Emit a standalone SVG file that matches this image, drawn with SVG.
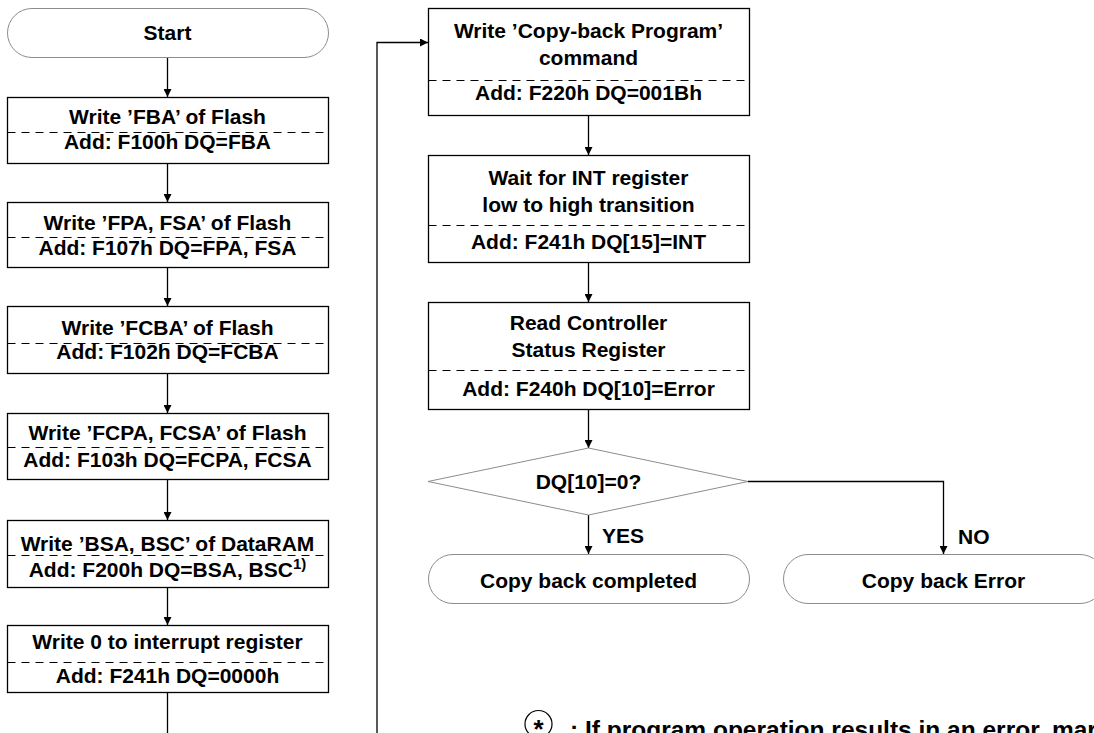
<svg xmlns="http://www.w3.org/2000/svg" width="1094" height="733" viewBox="0 0 1094 733">
<style>
.t{font-family:"Liberation Sans",Arial,sans-serif;font-weight:bold;font-size:21px;fill:#000;text-anchor:middle}
.box{fill:#fff;stroke:#000;stroke-width:1.3}
.term{fill:#fff;stroke:#8c8c8c;stroke-width:1}
.dash{stroke:#000;stroke-width:1;stroke-dasharray:8,6;fill:none}
.c{stroke:#000;stroke-width:1.3;fill:none}
</style>
<defs>
<marker id="ah" viewBox="0 0 10 10" refX="10" refY="5" markerWidth="8" markerHeight="8" markerUnits="userSpaceOnUse" orient="auto">
<path d="M0,0 L10,5 L0,10 z" fill="#000"/>
</marker>
</defs>
<rect width="1094" height="733" fill="#fff"/>
<g id="connectors">
<path class="c" d="M167.5,57 V97" marker-end="url(#ah)"/>
<path class="c" d="M167.5,163 V202" marker-end="url(#ah)"/>
<path class="c" d="M167.5,267 V306" marker-end="url(#ah)"/>
<path class="c" d="M167.5,373 V413" marker-end="url(#ah)"/>
<path class="c" d="M167.5,479 V520" marker-end="url(#ah)"/>
<path class="c" d="M167.5,587 V625" marker-end="url(#ah)"/>
<path class="c" d="M167.5,692 V740"/>
<path class="c" d="M377,740 V42.5 H428" marker-end="url(#ah)"/>
<path class="c" d="M588.5,115 V155" marker-end="url(#ah)"/>
<path class="c" d="M588.5,262 V302" marker-end="url(#ah)"/>
<path class="c" d="M588.5,409 V448" marker-end="url(#ah)"/>
<path class="c" d="M588.5,515 V554" marker-end="url(#ah)"/>
<path class="c" d="M748,481.5 H943.5 V554" marker-end="url(#ah)"/>
</g>
<g id="start">
<rect class="term" x="7.5" y="8.5" width="321" height="49" rx="24.5"/>
<text class="t" x="167.5" y="40">Start</text>
</g>
<g id="n1">
<rect class="box" x="7.5" y="97.5" width="321" height="66"/>
<line class="dash" x1="7.5" y1="132.5" x2="328.5" y2="132.5"/>
<text class="t" x="167.5" y="124">Write ’FBA’ of Flash</text>
<text class="t" x="167.5" y="149">Add: F100h DQ=FBA</text>
</g>
<g id="n2">
<rect class="box" x="7.5" y="202.5" width="321" height="65"/>
<line class="dash" x1="7.5" y1="237.5" x2="328.5" y2="237.5"/>
<text class="t" x="167.5" y="230">Write ’FPA, FSA’ of Flash</text>
<text class="t" x="167.5" y="255">Add: F107h DQ=FPA, FSA</text>
</g>
<g id="n3">
<rect class="box" x="7.5" y="306.5" width="321" height="67"/>
<line class="dash" x1="7.5" y1="343.5" x2="328.5" y2="343.5"/>
<text class="t" x="167.5" y="335">Write ’FCBA’ of Flash</text>
<text class="t" x="167.5" y="359">Add: F102h DQ=FCBA</text>
</g>
<g id="n4">
<rect class="box" x="7.5" y="413.5" width="321" height="66"/>
<line class="dash" x1="7.5" y1="447.5" x2="328.5" y2="447.5"/>
<text class="t" x="167.5" y="440">Write ’FCPA, FCSA’ of Flash</text>
<text class="t" x="167.5" y="467">Add: F103h DQ=FCPA, FCSA</text>
</g>
<g id="n5">
<rect class="box" x="7.5" y="520.5" width="321" height="67"/>
<line class="dash" x1="7.5" y1="555.5" x2="328.5" y2="555.5"/>
<text class="t" x="167.5" y="551">Write ’BSA, BSC’ of DataRAM</text>
<text class="t" x="167.5" y="577">Add: F200h DQ=BSA, BSC<tspan dy="-8" font-size="15">1)</tspan></text>
</g>
<g id="n6">
<rect class="box" x="7.5" y="625.5" width="321" height="67"/>
<line class="dash" x1="7.5" y1="662.5" x2="328.5" y2="662.5"/>
<text class="t" x="167.5" y="649">Write 0 to interrupt register</text>
<text class="t" x="167.5" y="683">Add: F241h DQ=0000h</text>
</g>
<g id="n7">
<rect class="box" x="428.5" y="8.5" width="321" height="107"/>
<line class="dash" x1="428.5" y1="80.5" x2="749.5" y2="80.5"/>
<text class="t" x="588.5" y="38">Write ’Copy-back Program’</text>
<text class="t" x="588.5" y="65">command</text>
<text class="t" x="588.5" y="100">Add: F220h DQ=001Bh</text>
</g>
<g id="n8">
<rect class="box" x="428.5" y="155.5" width="321" height="107"/>
<line class="dash" x1="428.5" y1="225.5" x2="749.5" y2="225.5"/>
<text class="t" x="588.5" y="185">Wait for INT register</text>
<text class="t" x="588.5" y="212">low to high transition</text>
<text class="t" x="588.5" y="249">Add: F241h DQ[15]=INT</text>
</g>
<g id="n9">
<rect class="box" x="428.5" y="302.5" width="321" height="107"/>
<line class="dash" x1="428.5" y1="370.5" x2="749.5" y2="370.5"/>
<text class="t" x="588.5" y="330">Read Controller</text>
<text class="t" x="588.5" y="357">Status Register</text>
<text class="t" x="588.5" y="396">Add: F240h DQ[10]=Error</text>
</g>
<g id="decision">
<polygon class="term" points="588.5,448 748,481.5 588.5,515 428,481.5"/>
<text class="t" x="588.5" y="489">DQ[10]=0?</text>
</g>
<g id="labels">
<text class="t" x="602" y="543" style="text-anchor:start">YES</text>
<text class="t" x="958" y="544" style="text-anchor:start">NO</text>
</g>
<g id="done">
<rect class="term" x="428.5" y="554.5" width="321" height="49" rx="24.5"/>
<text class="t" x="588.5" y="588">Copy back completed</text>
</g>
<g id="error">
<rect class="term" x="783.5" y="554.5" width="321" height="49" rx="24.5"/>
<text class="t" x="943.5" y="588">Copy back Error</text>
</g>
<g id="note">
<circle cx="538.5" cy="724" r="13.5" fill="none" stroke="#000" stroke-width="1.2"/>
<text class="t" x="538.5" y="738" style="font-size:26px">*</text>
<text class="t" x="570" y="738" style="text-anchor:start;font-size:24.5px">: If program operation results in an error, mark</text>
</g>
</svg>
